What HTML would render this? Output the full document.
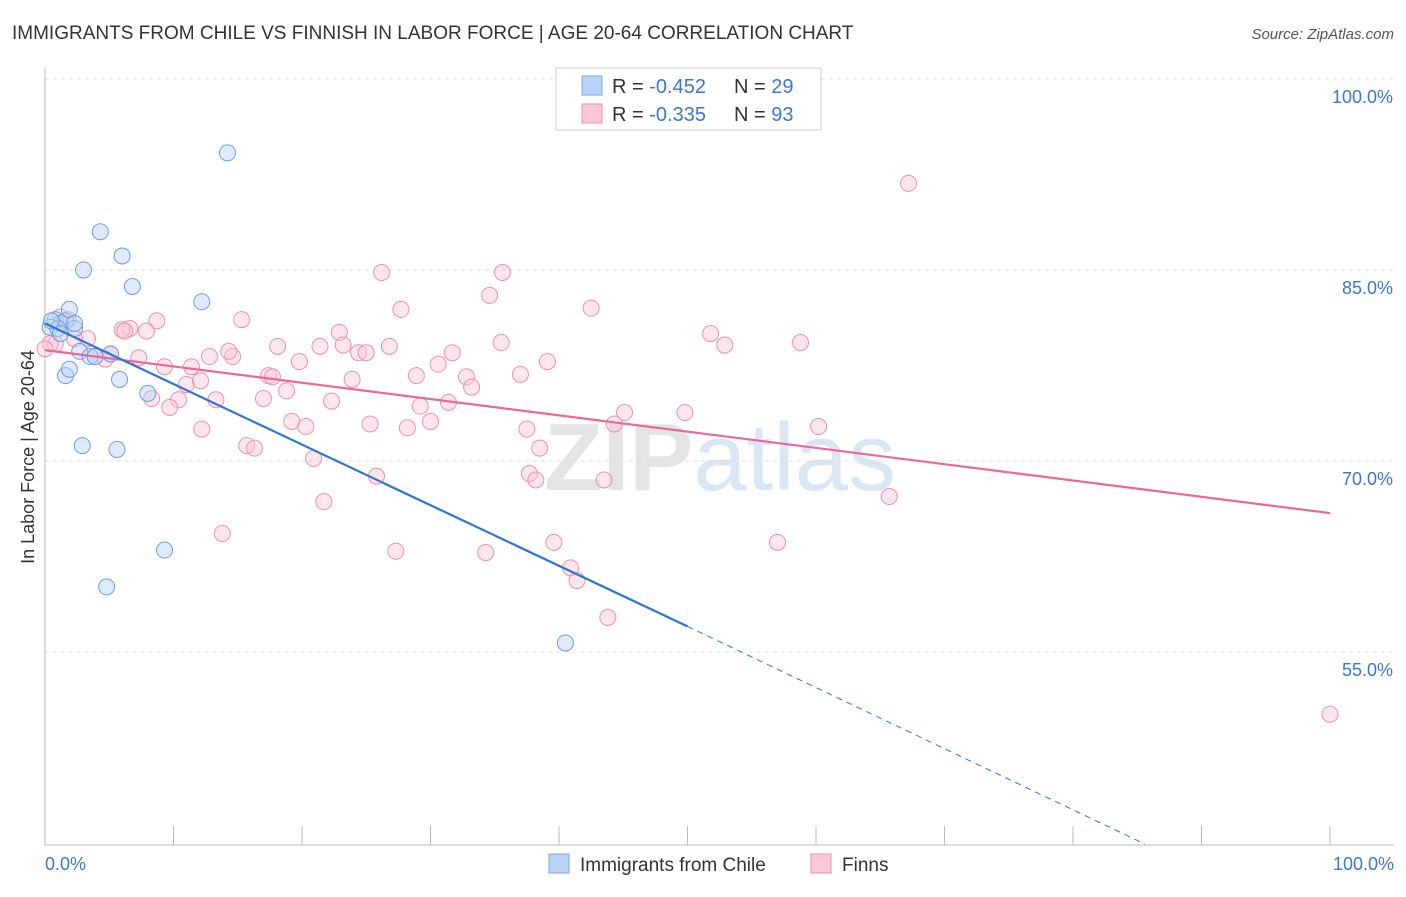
<!DOCTYPE html>
<html><head><meta charset="utf-8"><style>
body{margin:0;background:#fff;font-family:"Liberation Sans",sans-serif}
svg text{font-family:"Liberation Sans",sans-serif}
</style></head><body>
<svg id="chart" width="1406" height="892" xmlns="http://www.w3.org/2000/svg">
<text x="12" y="39" font-size="19" fill="#333">IMMIGRANTS FROM CHILE VS FINNISH IN LABOR FORCE | AGE 20-64 CORRELATION CHART</text>
<text x="1394" y="39" font-size="15" fill="#555" text-anchor="end" font-style="italic">Source: ZipAtlas.com</text>
<text x="720" y="490" font-size="96" text-anchor="middle" fill="#e4e4e4" font-family="Liberation Serif"><tspan font-weight="bold">ZIP</tspan><tspan fill="#dbe6f5" font-family="Liberation Sans">atlas</tspan></text>
<text transform="translate(34,457) rotate(-90)" font-size="18" fill="#333" text-anchor="middle">In Labor Force | Age 20-64</text>
<g id="grid"></g><g id="marks"></g>
<g>
<rect x="556" y="68" width="265" height="62" fill="#fff" stroke="#ccc"/>
<rect x="582" y="76" width="20" height="19" fill="#b8d3f6" stroke="#7aa7e6"/>
<rect x="582" y="104" width="20" height="19" fill="#fcc8d6" stroke="#f08caa"/>
<text x="612" y="93" font-size="20" fill="#333">R = <tspan fill="#3a76d6">-0.452</tspan></text>
<text x="734" y="93" font-size="20" fill="#333">N = <tspan fill="#3a76d6">29</tspan></text>
<text x="612" y="121" font-size="20" fill="#333">R = <tspan fill="#3a76d6">-0.335</tspan></text>
<text x="734" y="121" font-size="20" fill="#333">N = <tspan fill="#3a76d6">93</tspan></text>
</g>
<g>
<rect x="549" y="854" width="20" height="19" fill="#b8d3f6" stroke="#7aa7e6"/>
<text x="580" y="871" font-size="19" fill="#333">Immigrants from Chile</text>
<rect x="811" y="854" width="20" height="19" fill="#fcc8d6" stroke="#f08caa"/>
<text x="842" y="871" font-size="19" fill="#333">Finns</text>
</g>
</svg>
<script>
const yTicks=[100,85,70,55];
const yTickLabels=["100.0%","85.0%","70.0%","55.0%"];
const xTickLabels=["0.0%","100.0%"];
const chileX=[0.8,1.2,1.6,1.9,0.4,1.0,2.3,2.7,3.5,5.1,1.6,1.9,2.9,5.6,5.8,8.0,9.3,4.8,14.2,4.3,6.0,3.0,6.8,12.2,40.5,1.2,3.9,2.3,0.5];
const chileY=[81.1,80.8,81.0,81.9,80.5,80.4,80.4,78.6,78.2,78.4,76.7,77.2,71.2,70.9,76.4,75.3,63.0,60.1,94.2,88.0,86.1,85.0,83.7,82.5,55.7,80.0,78.2,80.8,81.0];
const finnX=[46.8,67.2,26.2,35.6,34.6,27.7,42.5,15.3,8.7,6.6,7.9,6.0,22.9,51.8,52.9,58.8,35.5,18.1,21.4,23.2,24.4,25.0,26.8,31.7,39.1,30.6,14.6,12.8,14.3,7.3,9.3,5.1,4.7,3.9,3.3,2.3,1.2,1.8,0.8,19.8,11.4,17.4,17.7,23.9,28.9,32.8,33.2,37.0,11.0,12.1,18.8,8.3,10.4,13.3,17.0,22.3,29.2,31.4,45.1,49.8,9.7,12.2,19.2,20.3,25.3,28.2,30.0,37.5,44.3,60.2,38.5,15.7,16.3,20.9,25.8,37.7,38.2,43.5,65.7,21.7,13.8,39.6,57.0,27.3,34.3,40.9,41.4,43.8,100,0.4,0,6.2];
const finnY=[100.0,91.8,84.8,84.8,83.0,81.9,82.0,81.1,81.0,80.4,80.2,80.3,80.1,80.0,79.1,79.3,79.3,79.0,79.0,79.1,78.5,78.5,79.0,78.5,77.8,77.6,78.2,78.2,78.6,78.1,77.4,78.4,78.0,78.2,79.6,79.6,81.3,81.1,79.2,77.8,77.4,76.7,76.6,76.4,76.7,76.6,75.8,76.8,76.0,76.3,75.5,74.9,74.8,74.8,74.9,74.7,74.3,74.6,73.8,73.8,74.2,72.5,73.1,72.7,72.9,72.6,73.1,72.5,72.9,72.7,71.0,71.2,71.0,70.2,68.8,69.0,68.5,68.5,67.2,66.8,64.3,63.6,63.6,62.9,62.8,61.6,60.6,57.7,50.1,79.2,78.8,80.2];
const chileTrend=[[0,80.8],[50,57.0],[85.6,39.9]];
const finnTrend=[[0,78.7],[100,65.9]];
const X=v=>45+v*12.85, Y=v=>79+(100-v)*12.73;
const NS="http://www.w3.org/2000/svg";
function mk(tag,attrs,parent){const e=document.createElementNS(NS,tag);for(const k in attrs)e.setAttribute(k,attrs[k]);parent.appendChild(e);return e;}
const grid=document.getElementById('grid'),marks=document.getElementById('marks');
yTicks.forEach((t,i)=>{
 const l=mk('line',{x1:45,x2:1394,y1:Y(t),y2:Y(t),stroke:'#ddd','stroke-dasharray':'4,4'},grid);
 
 
 const tx=mk('text',{x:1393,y:Y(t)+24,'font-size':18,fill:'#3a76d6','text-anchor':'end'},grid);tx.textContent=yTickLabels[i];
 
 
});
const ax=mk('line',{x1:45,x2:45,y1:68,y2:845,stroke:'#bbb'},grid);


const bx=mk('line',{x1:45,x2:1394,y1:845,y2:845,stroke:'#bbb'},grid);


for(let i=0;i<=10;i++){const t=mk('line',{x1:X(i*10),x2:X(i*10),y1:826,y2:845,stroke:'#bbb'},grid);
 
 }
[[0,'start',45],[1,'end',1394]].forEach(([i,a,x])=>{const t=mk('text',{x:x,y:870,'font-size':18,fill:'#3a76d6','text-anchor':a},grid);t.textContent=xTickLabels[i];
 
 });
function dots(xs,ys,fill,stroke,name){xs.forEach((x,i)=>{const c=mk('circle',{cx:X(x),cy:Y(ys[i]),r:8,fill:fill,'fill-opacity':0.45,stroke:stroke,'stroke-width':1},marks);
 
 });}
dots(finnX,finnY,'#fcc8d6','#ec8fae','finns-point');
dots(chileX,chileY,'#b8d3f6','#6d9ee0','chile-point');
const p1=mk('line',{x1:X(finnTrend[0][0]),y1:Y(finnTrend[0][1]),x2:X(finnTrend[1][0]),y2:Y(finnTrend[1][1]),stroke:'#e8689a','stroke-width':2.2},marks);


const b1=mk('line',{x1:X(chileTrend[0][0]),y1:Y(chileTrend[0][1]),x2:X(chileTrend[1][0]),y2:Y(chileTrend[1][1]),stroke:'#2f74d8','stroke-width':2.2},marks);


const b2=mk('line',{x1:X(chileTrend[1][0]),y1:Y(chileTrend[1][1]),x2:X(chileTrend[2][0]),y2:Y(chileTrend[2][1]),stroke:'#2f74d8','stroke-width':1,'stroke-dasharray':'6,5'},marks);


</script>
</body></html>
